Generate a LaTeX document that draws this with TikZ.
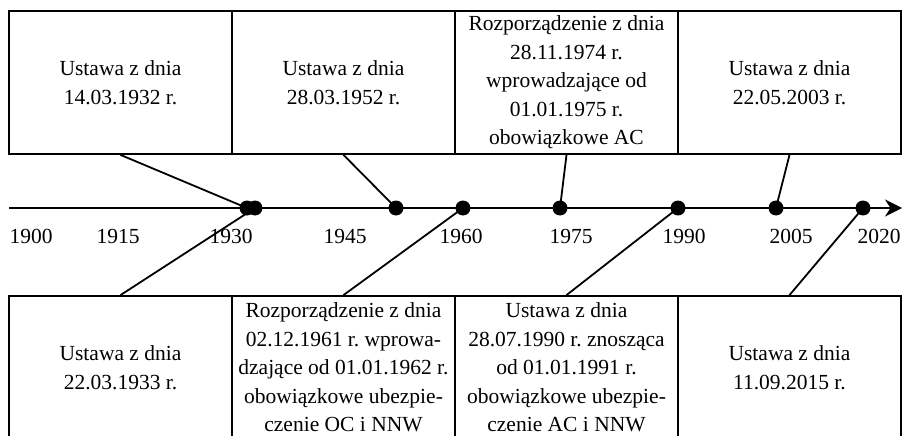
\documentclass[tikz,border=0pt]{standalone}
\usepackage{fontspec}
\setmainfont{Liberation Serif}
\usetikzlibrary{arrows.meta}
\frenchspacing
\tikzset{
  txt/.style={font=\fontsize{21.5}{28.5}\selectfont},
  box/.style={txt,draw,line width=1.8pt,minimum width=223pt,minimum height=143pt,
    inner sep=1pt,align=center},
  event/.style={circle,fill,inner sep=0pt,minimum size=15pt},
}
\begin{document}
\begin{tikzpicture}[x=1pt,y=-1pt,line width=1.8pt]
  \useasboundingbox (0,0) rectangle (903,436);
  \clip (0,0) rectangle (903,436);
  % boxes above the axis
  \node[box] (t1) at (120.5,82.5) {Ustawa z dnia\\14.03.1932 r.};
  \node[box] (t2) at (343.5,82.5) {Ustawa z dnia\\28.03.1952 r.};
  \node[box] (t3) at (566.5,82.5) {Rozporządzenie z dnia\\28.11.1974 r.\\wprowadzające od\\01.01.1975 r.\\obowiązkowe AC};
  \node[box] (t4) at (789.5,82.5) {Ustawa z dnia\\22.05.2003 r.};
  % boxes below the axis
  \node[box] (b1) at (120.5,367.5) {Ustawa z dnia\\22.03.1933 r.};
  \node[box] (b2) at (343.5,367.5) {Rozporządzenie z dnia\\02.12.1961 r. wprowa-\\dzające od 01.01.1962 r.\\obowiązkowe ubezpie-\\czenie OC i NNW};
  \node[box] (b3) at (566.5,367.5) {Ustawa z dnia\\28.07.1990 r. znosząca\\od 01.01.1991 r.\\obowiązkowe ubezpie-\\czenie AC i NNW};
  \node[box] (b4) at (789.5,367.5) {Ustawa z dnia\\11.09.2015 r.};
  % axis
  \coordinate (start) at (9,208);
  \coordinate (end) at (902,208);
  \draw[-{Stealth[length=17pt,width=17pt]}] (start) -- (end);
  \foreach \yr/\x in {1900/31,1915/118,1930/231,1945/345,1960/461,1975/571,1990/684,2005/791,2020/879}
    \node[txt,anchor=base] (y\yr) at (\x,243) {\yr};
  % events
  \foreach \d/\x in {1932/247,1933/255,1952/396,1961/463,1974/560,1990/678,2003/776,2015/863}
    \coordinate (c\d) at (\x,208);
  \begin{scope}[-]
    \draw (t1.south) to (c1932);
    \draw (t2.south) to (c1952);
    \draw (t3.south) to (c1974);
    \draw (t4.south) to (c2003);
    \draw (b1.north) to (c1933);
    \draw (b2.north) to (c1961);
    \draw (b3.north) to (c1990);
    \draw (b4.north) to (c2015);
  \end{scope}
  \foreach \d in {1932,1933,1952,1961,1974,1990,2003,2015}
    \node[event] (e\d) at (c\d) {};
\end{tikzpicture}
\end{document}
